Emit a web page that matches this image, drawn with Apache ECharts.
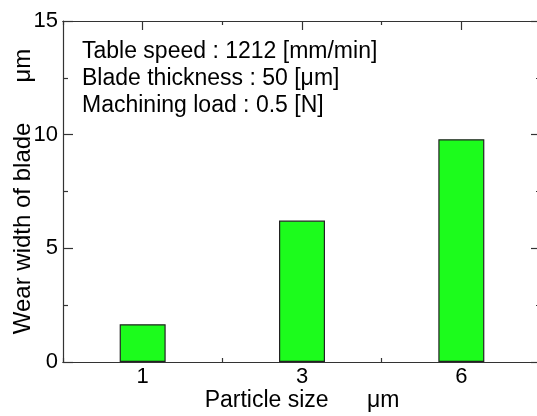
<!DOCTYPE html>
<html>
<head>
<meta charset="utf-8">
<script src="https://cdn.jsdelivr.net/npm/echarts@6/dist/echarts.min.js"></script>
<style>
  html, body { margin: 0; padding: 0; background: #fff; }
  #main { width: 537px; height: 416px; }
</style>
</head>
<body>
<div id="main"></div>
<script>
// particle sizes (μm) and measured wear width of the blade (μm)
var particleSizes = ['1', '3', '6'];
var wearWidth = [1.66, 6.22, 9.8];
var yTicks = { min: 0, max: 15, interval: 5 };
var conditionLines = [
  'Table speed : 1212 [mm/min]',
  'Blade thickness : 50 [μm]',
  'Machining load : 0.5 [N]'
];

var FONT = 'Liberation Sans, Arial, sans-serif';
var lineStyle = { color: '#333', width: 1.2 };

var chart = echarts.init(document.getElementById('main'));

// one x axis for the long ticks under each bar, one for the short ticks between bars
function xAx(pos, major, withLabel) {
  return {
    type: 'category',
    position: pos,
    data: particleSizes,
    axisLine: { show: true, lineStyle: lineStyle },
    axisTick: { show: true, inside: true, alignWithLabel: major, length: major ? 9 : 4, lineStyle: lineStyle },
    axisLabel: { show: withLabel, color: '#000', fontSize: 22, fontFamily: FONT, margin: 4 },
    splitLine: { show: false },
    name: withLabel ? 'Particle size      μm' : '',
    nameLocation: 'middle',
    nameGap: 27,
    nameMoveOverlap: false,
    nameTextStyle: { color: '#000', fontSize: 23, fontFamily: FONT }
  };
}

function yAx(pos, withLabel) {
  return {
    type: 'value',
    position: pos,
    min: yTicks.min,
    max: yTicks.max,
    interval: yTicks.interval,
    axisLine: { show: true, lineStyle: lineStyle },
    axisTick: { show: true, inside: true, length: 10, lineStyle: lineStyle },
    minorTick: { show: true, splitNumber: 2, length: 5, lineStyle: lineStyle },
    axisLabel: { show: withLabel, color: '#000', fontSize: 22, fontFamily: FONT, margin: 5 },
    splitLine: { show: false },
    name: withLabel ? 'Wear width of blade      μm' : '',
    nameLocation: 'middle',
    nameGap: 28,
    nameMoveOverlap: false,
    nameTextStyle: { color: '#000', fontSize: 24, fontFamily: FONT }
  };
}

var option = {
  animation: false,
  backgroundColor: '#fff',
  title: {
    text: conditionLines.join('\n'),
    left: 82,
    top: 38,
    padding: 0,
    textStyle: { color: '#000', fontSize: 23, fontWeight: 'normal', fontFamily: FONT, lineHeight: 27 }
  },
  grid: { left: 63, top: 21, right: -4, bottom: 54, containLabel: false, outerBoundsMode: 'none' },
  xAxis: [
    xAx('bottom', true, true),
    xAx('bottom', false, false),
    xAx('top', true, false),
    xAx('top', false, false)
  ],
  yAxis: [
    yAx('left', true),
    yAx('right', false)
  ],
  series: [{
    type: 'bar',
    xAxisIndex: 0,
    yAxisIndex: 0,
    data: wearWidth,
    barWidth: 46,
    itemStyle: { color: '#1cfc1c', borderColor: '#222', borderWidth: 1.2 },
    z: 1
  }]
};

chart.setOption(option);
</script>
</body>
</html>
